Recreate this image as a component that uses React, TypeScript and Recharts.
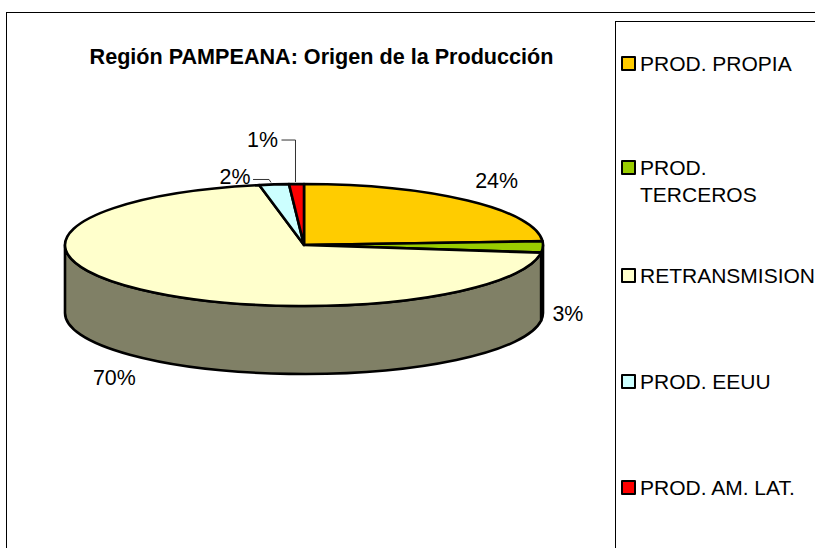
import { Legend, Pie, PieChart } from "recharts";

const categories = ["PROD. PROPIA", "PROD. TERCEROS", "RETRANSMISION", "PROD. EEUU", "PROD. AM. LAT."];
const shares = [24, 3, 70, 2, 1];
const colors = ["#FFCC00", "#99CC00", "#FFFFCC", "#CCFFFF", "#FF0000"];
const wallColors = ["#806600", "#4D6600", "#808066", "#668080", "#800000"];

const rows = categories.map((name, i) => ({ name, value: shares[i], fill: colors[i], wall: wallColors[i] }));

const FONT = '"Liberation Sans", Arial, sans-serif';
const CX = 304;
const CY = 245;
const RX = 239;
const SQUASH = 61 / 239; // tilt of the pie
const DEPTH = 68;

// label offsets from the rim point of each slice
const labelDx = [29, 25, -26, -39, -34];
const labelDy = [-20, 67, 89, -7, -44];
const legendTops = [28, 132, 240, 346, 452];

const rad = (d: number) => (d * Math.PI) / 180;

// clock angle (0 = top, clockwise) on the squashed ellipse
function rim(cx: number, cy: number, r: number, clock: number, dy = 0) {
  return {
    x: cx + r * Math.sin(rad(clock)),
    y: cy - r * SQUASH * Math.cos(rad(clock)) + dy,
  };
}

function EllipseSlice(props: any) {
  const { cx, cy, outerRadius: r, startAngle, endAngle, fill, wall } = props;
  const ry = r * SQUASH;
  const a0 = 90 - startAngle;
  const a1 = 90 - endAngle;
  const p0 = rim(cx, cy, r, a0);
  const p1 = rim(cx, cy, r, a1);
  const large = a1 - a0 > 180 ? 1 : 0;

  // side wall only shows on the front half
  const w0 = Math.max(a0, 90);
  const w1 = Math.min(a1, 270);
  let wallPath = null;
  if (w1 > w0) {
    const t0 = rim(cx, cy, r, w0);
    const t1 = rim(cx, cy, r, w1);
    const b0 = rim(cx, cy, r, w0, DEPTH);
    const b1 = rim(cx, cy, r, w1, DEPTH);
    const wl = w1 - w0 > 180 ? 1 : 0;
    wallPath =
      `M${t0.x},${t0.y} A${r},${ry} 0 ${wl} 1 ${t1.x},${t1.y} ` +
      `L${b1.x},${b1.y} A${r},${ry} 0 ${wl} 0 ${b0.x},${b0.y} Z`;
  }

  return (
    <g>
      {wallPath && <path d={wallPath} fill={wall} stroke="#000" strokeWidth={2.6} strokeLinejoin="round" />}
      <path
        d={`M${cx},${cy} L${p0.x},${p0.y} A${r},${ry} 0 ${large} 1 ${p1.x},${p1.y} Z`}
        fill={fill}
        stroke="#000"
        strokeWidth={2.6}
        strokeLinejoin="round"
      />
    </g>
  );
}

function SliceLabel(props: any) {
  const { cx, cy, outerRadius, midAngle, index, value } = props;
  const p = rim(cx, cy, outerRadius, 90 - midAngle);
  const x = p.x + labelDx[index];
  const y = p.y + labelDy[index];
  return (
    <g>
      {index === 3 && (
        <polyline points={`${x + 18},${y + 2} ${x + 34},${y + 2} ${x + 36},${y + 5}`} fill="none" stroke="#333" strokeWidth={1} />
      )}
      {index === 4 && (
        <polyline points={`${x + 19},${y} ${x + 33},${y} ${x + 33},${y + 42}`} fill="none" stroke="#333" strokeWidth={1} />
      )}
      <text x={x} y={y} textAnchor="middle" dominantBaseline="central" fontFamily={FONT} fontSize={21.4} fill="#000">
        {`${value}%`}
      </text>
    </g>
  );
}

function ChartLegend(props: any) {
  return (
    <div style={{ position: "relative", width: 200, height: 527, overflow: "hidden" }}>
      {(props.payload ?? []).map((item: any, i: number) => (
        <div
          key={item.value}
          style={{
            position: "absolute",
            left: 5,
            top: legendTops[i],
            display: "flex",
            alignItems: "flex-start",
            fontFamily: FONT,
            fontSize: 21,
            lineHeight: "27px",
            color: "#000",
          }}
        >
          <span
            style={{
              display: "inline-block",
              boxSizing: "border-box",
              width: 15,
              height: 15,
              marginTop: 6,
              marginRight: 4,
              flexShrink: 0,
              background: item.color,
              border: "2.5px solid #000",
              borderRadius: 1,
            }}
          />
          <span style={{ width: 175, whiteSpace: item.value === "PROD. TERCEROS" ? "normal" : "nowrap" }}>{item.value}</span>
        </div>
      ))}
    </div>
  );
}

export default function App() {
  return (
    <div style={{ position: "fixed", left: 0, top: 0, width: 815, height: 548, overflow: "hidden", background: "#fff" }}>
      <div
        style={{
          position: "absolute",
          left: 6,
          top: 12,
          width: 815,
          height: 540,
          borderLeft: "1px solid #000",
          borderTop: "1px solid #000",
        }}
      />
      <PieChart width={815} height={548} margin={{ top: 0, right: 0, bottom: 0, left: 0 }}>
        <text x={321.5} y={56} textAnchor="middle" dominantBaseline="central" fontFamily={FONT} fontSize={21.6} fontWeight="bold" fill="#000">
          Región PAMPEANA: Origen de la Producción
        </text>
        <Pie
          data={rows}
          dataKey="value"
          nameKey="name"
          cx={CX}
          cy={CY}
          innerRadius={0}
          outerRadius={RX}
          startAngle={90}
          endAngle={-270}
          shape={EllipseSlice}
          label={SliceLabel}
          labelLine={false}
          isAnimationActive={false}
        />
        <Legend
          content={ChartLegend}
          itemSorter={null}
          wrapperStyle={{
            position: "absolute",
            left: 615,
            top: 21,
            width: 200,
            height: 527,
            borderLeft: "1px solid #000",
            borderTop: "1px solid #000",
          }}
        />
      </PieChart>
    </div>
  );
}
